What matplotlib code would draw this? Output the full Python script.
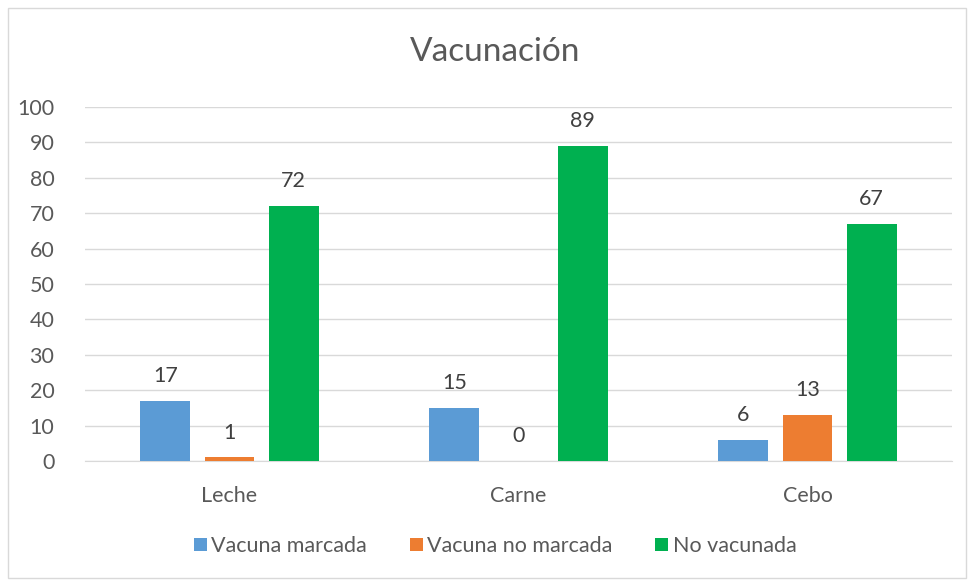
import numpy as np
import matplotlib.pyplot as plt
from matplotlib.patches import Rectangle

categorias = ['Leche', 'Carne', 'Cebo']
series = ['Vacuna marcada', 'Vacuna no marcada', 'No vacunada']
vacuna_marcada = [17, 15, 6]
vacuna_no_marcada = [1, 0, 13]
no_vacunada = [72, 89, 67]
colores = ['#5B9BD5', '#ED7D31', '#00B050']

plt.rcParams['font.family'] = ['Lato', 'DejaVu Sans']
texto = '#595959'

fig = plt.figure(figsize=(9.68, 5.81), dpi=100)
fig.patches.append(Rectangle((8 / 968, 3 / 581), 958 / 968, 570 / 581, transform=fig.transFigure,
                             fill=False, edgecolor='#d9d9d9', linewidth=1))
ax = fig.add_axes([85 / 968, 1 - 461 / 581, 867 / 968, 354 / 581])

x = np.arange(len(categorias))
ancho = 0.173
paso = 0.222
valores = [vacuna_marcada, vacuna_no_marcada, no_vacunada]
for i, (nombre, vals) in enumerate(zip(series, valores)):
    pos = x + (i - 1) * paso
    ax.bar(pos, vals, ancho, color=colores[i], label=nombre, zorder=3)
    for xb, v in zip(pos, vals):
        ax.text(xb, v + 7, str(v), ha='center', va='center', fontsize=15.5, color='#404040')

ax.set_xlim(-0.5, 2.5)
ax.set_ylim(0, 100)
ax.set_yticks(range(0, 101, 10))
ax.set_xticks(x)
ax.set_xticklabels(categorias)
ax.yaxis.grid(True, color='#d9d9d9', linewidth=1, zorder=0)
for s in ['top', 'right', 'left']:
    ax.spines[s].set_visible(False)
ax.spines['bottom'].set_color('#d9d9d9')
ax.tick_params(axis='both', length=0, labelsize=15.5, labelcolor=texto)
ax.tick_params(axis='y', pad=22)
ax.tick_params(axis='x', pad=18)

fig.text(495 / 968, 1 - 52 / 581, 'Vacunación', ha='center', va='center', fontsize=24, color=texto)
fig.legend(loc='center', bbox_to_anchor=(495 / 968, 1 - 546 / 581), ncol=3, frameon=False,
           fontsize=15.5, handlelength=0.6, handleheight=0.6, handletextpad=0.2, columnspacing=2.0,
           labelcolor=texto)

fig.savefig('out.png', dpi=100)
